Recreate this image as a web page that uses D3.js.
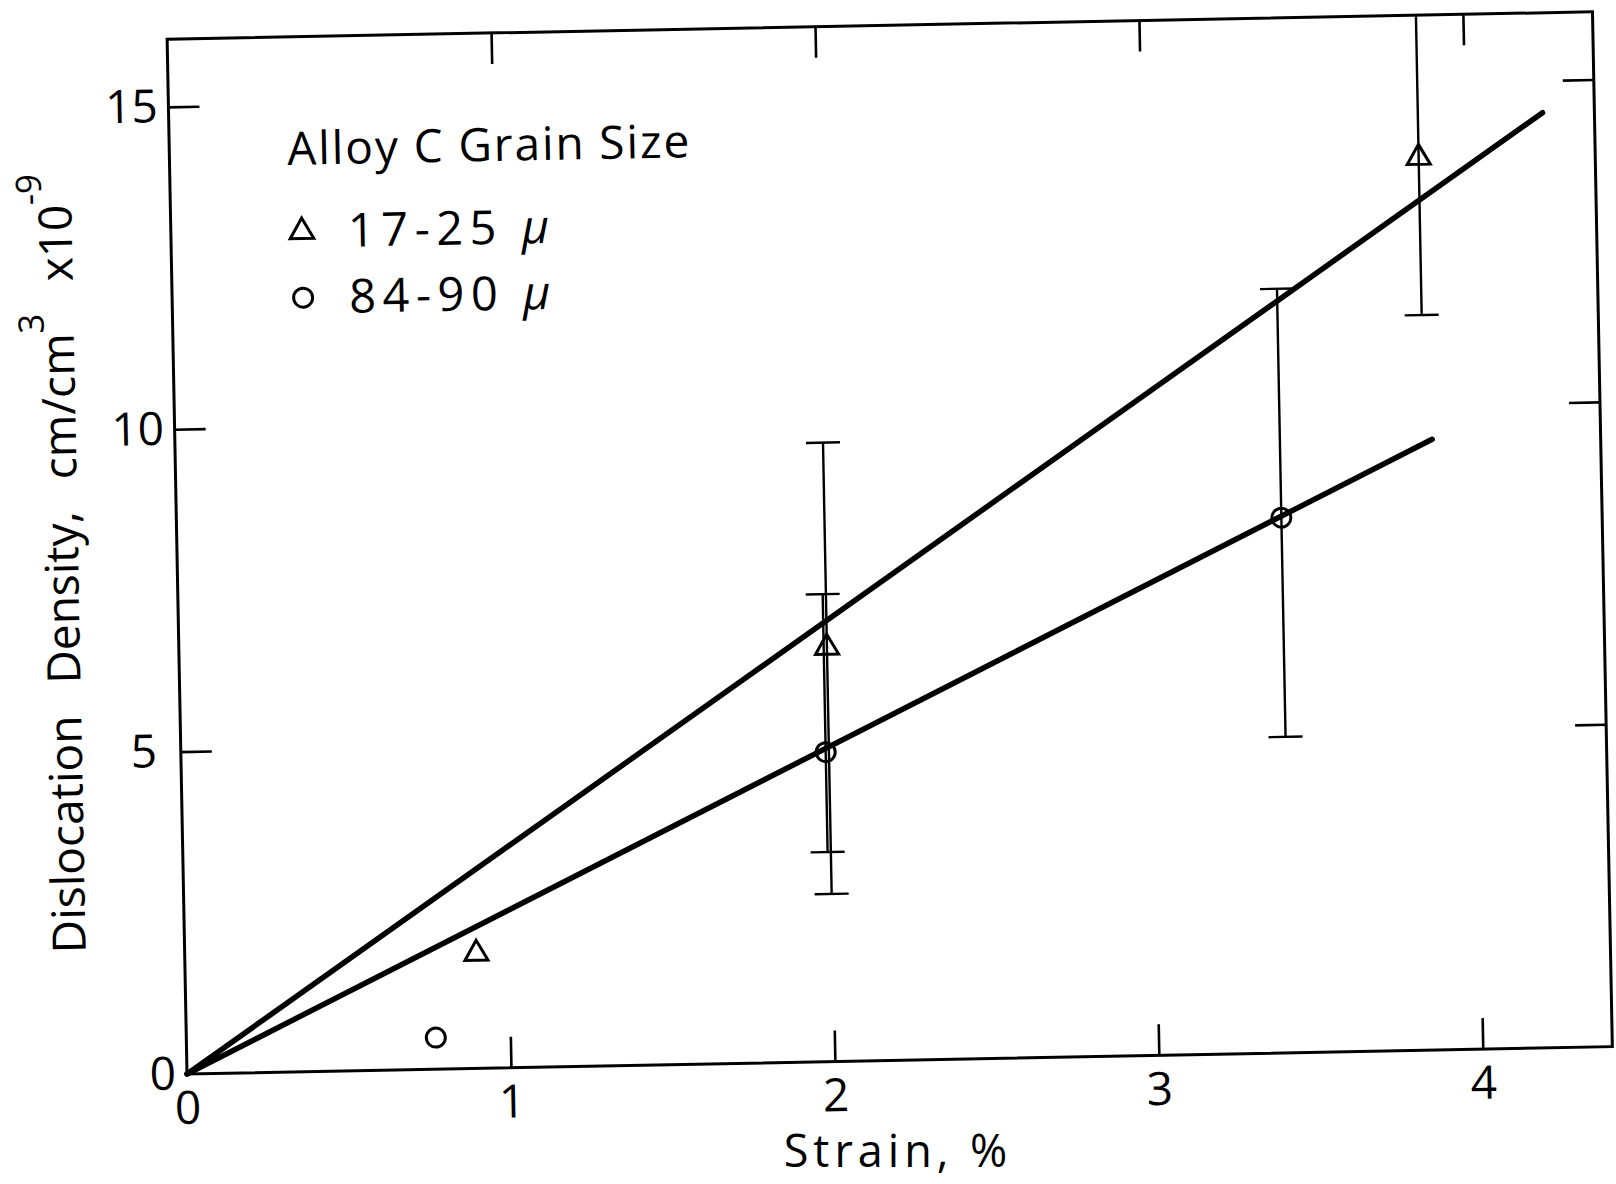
<!DOCTYPE html>
<html>
<head>
<meta charset="utf-8">
<script src="https://cdn.jsdelivr.net/npm/d3@7"></script>
<style>
  html, body { margin: 0; padding: 0; background: #fff; }
  svg { display: block; }
  text { font-family: "Open Sans", sans-serif; fill: #000; }
</style>
</head>
<body>
<svg id="chart" width="1616" height="1184"></svg>
<script>
// Alloy C: dislocation density (cm/cm^3 x 1e-9) against strain (%)
// Fine grain, 17-25 micron (triangles)
const fineStrain   = [0.90, 2.00, 3.855];
const fineDensity  = [1.78, 6.42, 13.84];
const fineErrLow   = [null, 2.6, 11.4];
const fineErrHigh  = [null, 9.6, 16.4];

// Coarse grain, 84-90 micron (circles)
const coarseStrain  = [0.77, 1.99, 3.41];
const coarseDensity = [0.49, 4.8, 8.3];
const coarseErrLow  = [null, 3.25, 4.9];
const coarseErrHigh = [null, 7.25, 11.85];

// Straight-line fits through the origin
const fineFitStrain    = [0, 4.24];
const fineFitDensity   = [0, 14.5];
const coarseFitStrain  = [0, 3.88];
const coarseFitDensity = [0, 9.47];

// Axes
const xTicks = [0, 1, 2, 3, 4];
const yTicks = [0, 5, 10, 15];
const xDomain = [0, 4.4];
const yDomain = [0, 16.05];

const legendTitle = "Alloy C Grain Size";
const legendLabels = ["17-25", "84-90"];
const xTitle = "Strain, %";
const yTitleParts = ["Dislocation Density, cm/cm", "3", " x10", "-9"];

// ---- layout ----
const ox = 187, oy = 1074;          // plot origin
const W = 1425.6, H = 1035;         // plot size
const tilt = -1.1;                  // slight tilt of the whole plotting frame
const tickLen = 31;

const svg = d3.select("#chart");
const x = d3.scaleLinear().domain(xDomain).range([ox, ox + W]);
const y = d3.scaleLinear().domain(yDomain).range([oy, oy - H]);

const g = svg.append("g").attr("transform", `rotate(${tilt}, ${ox}, ${oy})`);

g.append("clipPath").attr("id", "plotClip")
  .append("rect").attr("x", ox).attr("y", oy - H).attr("width", W).attr("height", H);

// frame
g.append("rect")
  .attr("x", ox).attr("y", oy - H).attr("width", W).attr("height", H)
  .attr("fill", "none").attr("stroke", "#000").attr("stroke-width", 3);

// bottom axis: inward ticks + labels
const axB = g.append("g").attr("transform", `translate(0,${oy})`)
  .call(d3.axisBottom(x).tickValues(xTicks).tickSizeInner(-tickLen).tickSizeOuter(0)
    .tickPadding(17).tickFormat(d3.format("d")));
// left axis
const axL = g.append("g").attr("transform", `translate(${ox},0)`)
  .call(d3.axisLeft(y).tickValues(yTicks).tickSizeInner(-tickLen).tickSizeOuter(0)
    .tickPadding(11).tickFormat(d3.format("d")));
// top and right axes: ticks only
const axT = g.append("g").attr("transform", `translate(0,${oy - H})`)
  .call(d3.axisTop(x).tickValues(xTicks.filter(d => d > 0)).tickSizeInner(-tickLen).tickSizeOuter(0).tickFormat(""));
const axR = g.append("g").attr("transform", `translate(${ox + W},0)`)
  .call(d3.axisRight(y).tickValues(yTicks.filter(d => d > 0)).tickSizeInner(-tickLen).tickSizeOuter(0).tickFormat(""));

[axB, axL, axT, axR].forEach(a => {
  a.select(".domain").remove();
  a.selectAll(".tick line").attr("stroke", "#000").attr("stroke-width", 2.6);
  a.selectAll(".tick text").attr("font-family", "Open Sans, sans-serif")
    .attr("font-size", 46).attr("fill", "#000");
});
// zero ticks coincide with the frame
axB.selectAll(".tick").filter(d => d === 0).select("line").remove();
axL.selectAll(".tick").filter(d => d === 0).select("line").remove();
// non-zero density labels are centred in the label column
axL.selectAll(".tick").filter(d => d !== 0).select("text")
  .attr("text-anchor", "middle").attr("x", -37);

// error bars
const capW = 34;
function errorBars(xs, lo, hi, cls) {
  const rows = xs.map((v, i) => ({ x: v, lo: lo[i], hi: hi[i] })).filter(r => r.lo != null);
  const eb = g.append("g").attr("class", cls).attr("clip-path", "url(#plotClip)")
    .attr("stroke", "#000").attr("stroke-width", 2.4);
  eb.selectAll("line.v").data(rows).join("line").attr("class", "v")
    .attr("x1", d => x(d.x)).attr("x2", d => x(d.x))
    .attr("y1", d => y(d.lo)).attr("y2", d => y(d.hi));
  eb.selectAll("line.lo").data(rows).join("line").attr("class", "lo")
    .attr("x1", d => x(d.x) - capW / 2).attr("x2", d => x(d.x) + capW / 2)
    .attr("y1", d => y(d.lo)).attr("y2", d => y(d.lo));
  eb.selectAll("line.hi").data(rows).join("line").attr("class", "hi")
    .attr("x1", d => x(d.x) - capW / 2).attr("x2", d => x(d.x) + capW / 2)
    .attr("y1", d => y(d.hi)).attr("y2", d => y(d.hi));
}
errorBars(fineStrain, fineErrLow, fineErrHigh, "err-fine");
errorBars(coarseStrain, coarseErrLow, coarseErrHigh, "err-coarse");

// fitted lines
const line = d3.line().x(d => x(d[0])).y(d => y(d[1]));
g.append("path").datum(d3.zip(fineFitStrain, fineFitDensity))
  .attr("d", line).attr("fill", "none").attr("stroke", "#000")
  .attr("stroke-width", 5.5).attr("stroke-linecap", "round");
g.append("path").datum(d3.zip(coarseFitStrain, coarseFitDensity))
  .attr("d", line).attr("fill", "none").attr("stroke", "#000")
  .attr("stroke-width", 5.5).attr("stroke-linecap", "round");

// markers
const tri = d3.symbol().type(d3.symbolTriangle).size(230);
g.append("g").selectAll("path").data(d3.zip(fineStrain, fineDensity)).join("path")
  .attr("d", tri).attr("transform", d => `translate(${x(d[0])},${y(d[1])})`)
  .attr("fill", "none").attr("stroke", "#000").attr("stroke-width", 3);
g.append("g").selectAll("circle").data(d3.zip(coarseStrain, coarseDensity)).join("circle")
  .attr("cx", d => x(d[0])).attr("cy", d => y(d[1])).attr("r", 9.5)
  .attr("fill", "none").attr("stroke", "#000").attr("stroke-width", 3);

// legend
const lg = g.append("g").attr("font-size", 46);
lg.append("text").attr("x", 305).attr("y", 167).attr("letter-spacing", 1.9).text(legendTitle);
lg.append("path").attr("d", d3.symbol().type(d3.symbolTriangle).size(240))
  .attr("transform", "translate(318,234)")
  .attr("fill", "none").attr("stroke", "#000").attr("stroke-width", 3);
lg.append("circle").attr("cx", 318).attr("cy", 300).attr("r", 9.5)
  .attr("fill", "none").attr("stroke", "#000").attr("stroke-width", 3);
[250, 316].forEach((yy, i) => {
  const t = lg.append("text").attr("x", 364).attr("y", yy)
    .attr("font-size", 47).attr("letter-spacing", 6.5);
  t.append("tspan").text(legendLabels[i] + " ");
  t.append("tspan").attr("font-style", "italic").text("\u03bc");
});

// axis titles
svg.append("text").attr("x", 898).attr("y", 1167).attr("text-anchor", "middle")
  .attr("font-size", 45).attr("letter-spacing", 5).text(xTitle);

const yt = g.append("text").attr("transform", "translate(88,561) rotate(-90)")
  .attr("text-anchor", "middle").attr("font-size", 46).attr("word-spacing", 20);
yt.append("tspan").text(yTitleParts[0]);
yt.append("tspan").attr("font-size", 35).attr("dy", -30).text(yTitleParts[1]);
yt.append("tspan").attr("dy", 30).text(yTitleParts[2]);
yt.append("tspan").attr("font-size", 35).attr("dy", -30).text(yTitleParts[3]);
</script>
</body>
</html>
